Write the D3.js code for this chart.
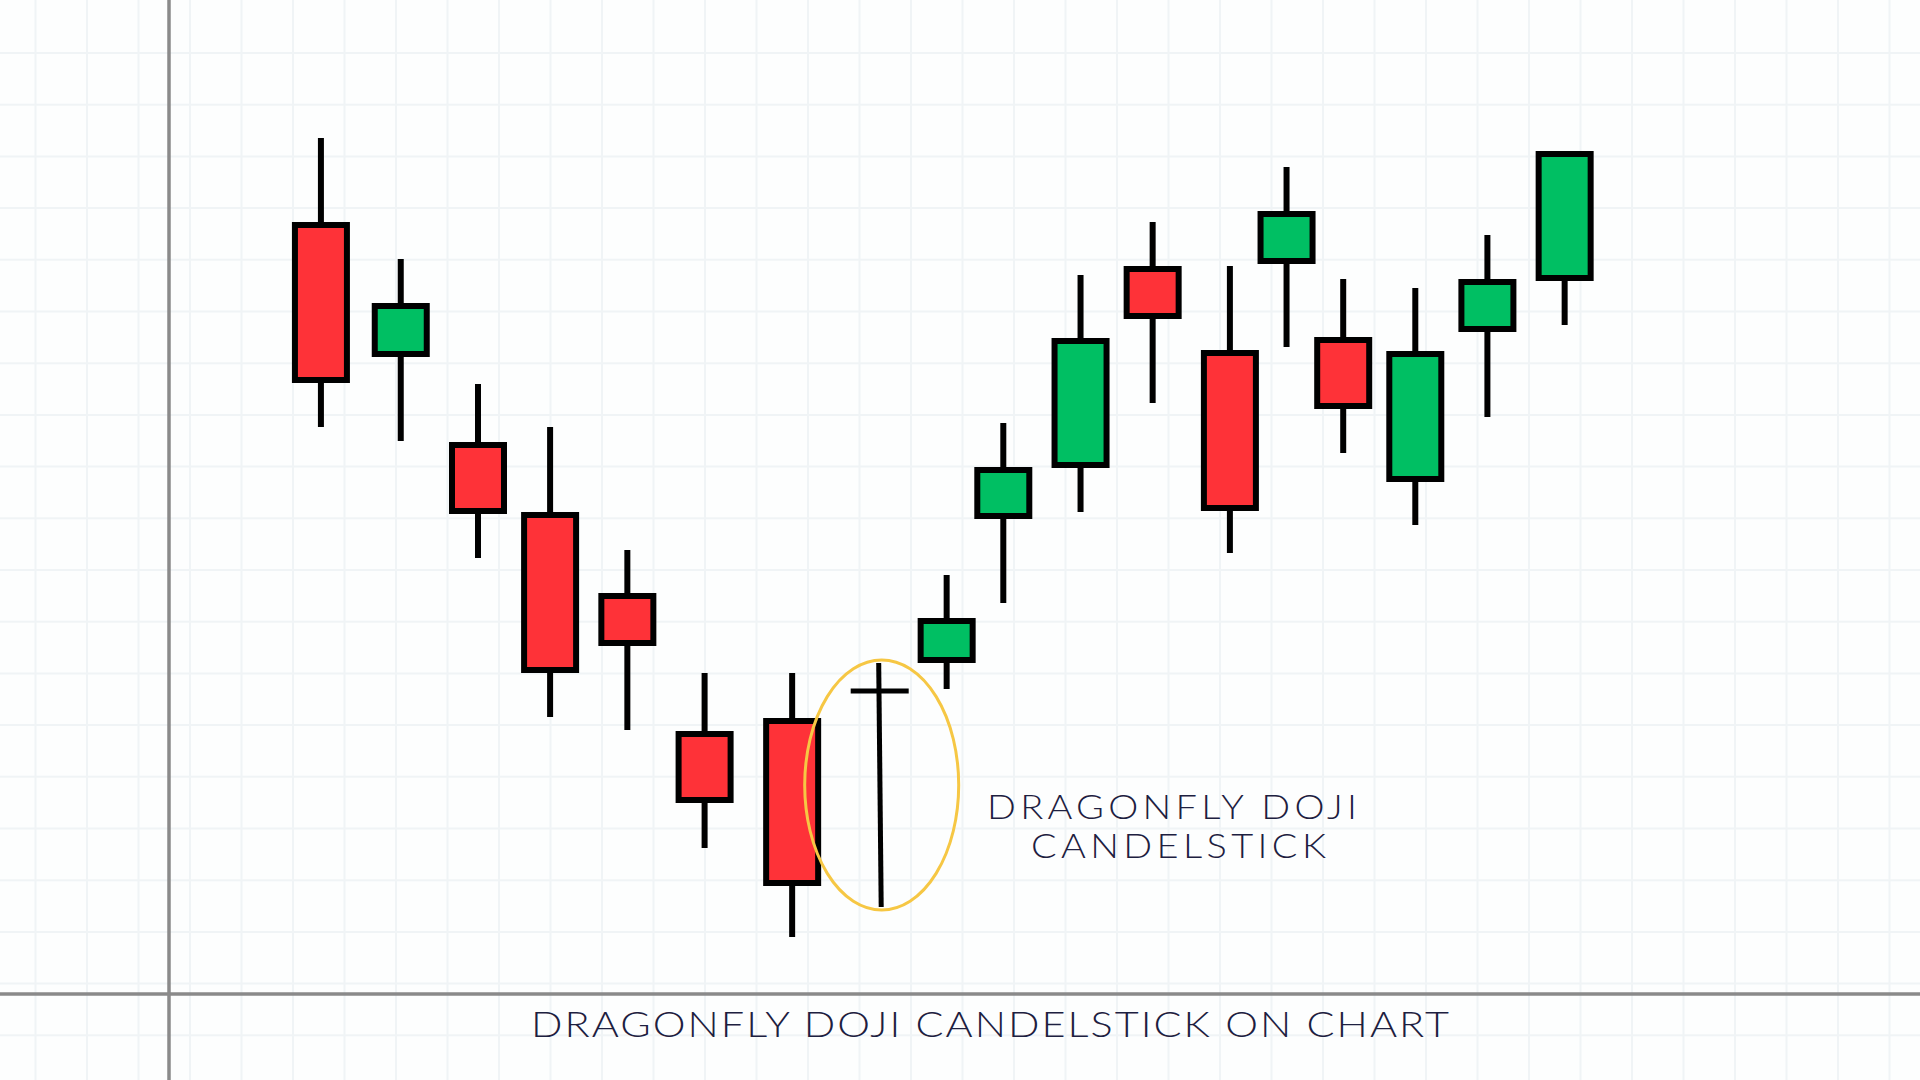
<!DOCTYPE html>
<html>
<head>
<meta charset="utf-8">
<script src="https://cdn.jsdelivr.net/npm/d3@7"></script>
<style>
  html, body { margin: 0; padding: 0; background: #ffffff; overflow: hidden; }
  svg { display: block; }
</style>
</head>
<body>
<svg id="chart" width="1920" height="1080"></svg>
<script>
// ---- data ----
const sessions = [2.95, 4.5, 6.0, 7.4, 8.9, 10.4, 12.1, 13.8, 15.1, 16.2, 17.7, 19.1, 20.6, 21.7, 22.8, 24.2, 25.6, 27.1];
const opens  = [76.9, 64.0, 54.9, 47.9, 39.8, 26.0, 27.3, 30.3, 33.4, 47.8, 52.9, 72.5, 64.1, 73.3, 65.4, 51.5, 66.5, 71.6];
const closes = [61.4, 68.8, 48.3, 32.4, 35.1, 19.4, 11.1, 30.3, 37.3, 52.4, 65.3, 67.8, 48.6, 78.0, 58.8, 64.0, 71.2, 84.0];
const highs  = [85.6, 73.5, 61.0, 56.7, 44.4, 32.1, 32.1, 33.1, 41.9, 57.1, 71.9, 77.2, 72.8, 82.7, 71.5, 70.6, 75.9, 84.0];
const lows   = [56.7, 55.3, 43.6, 27.7, 26.4, 14.6, 5.7, 8.7, 30.5, 39.1, 48.2, 59.1, 44.1, 64.7, 54.1, 46.9, 57.7, 66.9];
const dojiIndex = 7;
const title = "DRAGONFLY DOJI CANDELSTICK ON CHART";
const noteLines = ["DRAGONFLY DOJI", "CANDELSTICK"];

const candles = sessions.map((t, i) => ({ t, open: opens[i], close: closes[i], high: highs[i], low: lows[i], i }));

// ---- layout ----
const W = 1920, H = 1080;
const originX = 169, originY = 994;
const x = d3.scaleLinear().domain([0, 34]).range([originX, W]);
const y = d3.scaleLinear().domain([0, 99.4]).range([originY, 0]);

const svg = d3.select("#chart");
svg.append("rect").attr("width", W).attr("height", H).attr("fill", "#fdfefe");

// faint grid
const grid = svg.append("g").attr("stroke", "#f0f4f6").attr("stroke-width", 2);
const gx = 51.5, gy = 51.7;
d3.range(35.5, W, gx).forEach(v => grid.append("line").attr("x1", v).attr("x2", v).attr("y1", 0).attr("y2", H));
d3.range(53, H, gy).forEach(v => grid.append("line").attr("y1", v).attr("y2", v).attr("x1", 0).attr("x2", W));

// axes
svg.append("line").attr("x1", originX).attr("x2", originX).attr("y1", 0).attr("y2", H)
  .attr("stroke", "#8a8a8a").attr("stroke-width", 3.5);
svg.append("line").attr("x1", 0).attr("x2", W).attr("y1", originY).attr("y2", originY)
  .attr("stroke", "#8a8a8a").attr("stroke-width", 3.5);

const bodyW = 52;
const red = "#fe3238", green = "#00bf63";

const g = svg.append("g");
candles.forEach(c => {
  const cx = x(c.t);
  if (c.i === dojiIndex) {
    g.append("line").attr("x1", cx - 1).attr("x2", cx + 1.5).attr("y1", y(c.high)).attr("y2", y(c.low))
      .attr("stroke", "#000").attr("stroke-width", 5);
    g.append("line").attr("x1", cx - 29).attr("x2", cx + 29).attr("y1", y(c.open)).attr("y2", y(c.open))
      .attr("stroke", "#000").attr("stroke-width", 5);
    return;
  }
  g.append("line").attr("x1", cx).attr("x2", cx).attr("y1", y(c.high)).attr("y2", y(c.low))
    .attr("stroke", "#000").attr("stroke-width", 6);
  const top = y(Math.max(c.open, c.close)), bot = y(Math.min(c.open, c.close));
  g.append("rect").attr("x", cx - bodyW / 2).attr("y", top).attr("width", bodyW).attr("height", bot - top)
    .attr("fill", c.close >= c.open ? green : red)
    .attr("stroke", "#000").attr("stroke-width", 6);
});

// highlight ellipse around doji
const d = candles[dojiIndex];
svg.append("ellipse")
  .attr("cx", x(d.t) + 2).attr("cy", (y(d.high) + y(d.low)) / 2)
  .attr("rx", 77).attr("ry", 125)
  .attr("fill", "none").attr("stroke", "#f6c744").attr("stroke-width", 3);

// annotation (wide, thin geometric lettering)
const textColor = "#1d2040";
const font = "Lato, 'Open Sans', sans-serif";
const sx = 1.15;
function wideText(str, left, base, size, width) {
  svg.append("text")
    .attr("transform", `translate(${left},${base}) scale(${sx},1)`)
    .attr("x", 0).attr("y", 0)
    .attr("font-size", size).attr("font-family", font).attr("font-weight", 300)
    .attr("fill", textColor)
    .attr("textLength", width / sx).attr("lengthAdjust", "spacing")
    .text(str);
}
wideText(noteLines[0], 987, 819, 33, 370);
wideText(noteLines[1], 1031, 858, 33, 295);
wideText(title, 531, 1037, 36, 918);
</script>
</body>
</html>
